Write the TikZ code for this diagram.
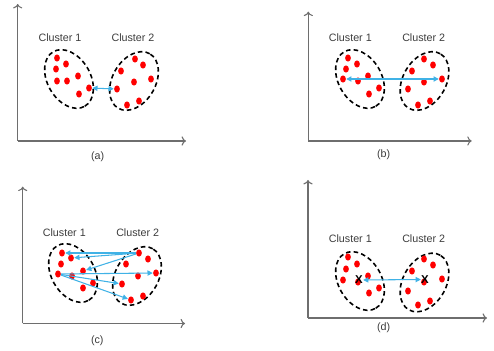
\documentclass[tikz,border=0pt]{standalone}
\usepackage{fontspec}
\setmainfont{Liberation Sans}
\usetikzlibrary{shapes.geometric,arrows.meta}
\definecolor{linkblue}{RGB}{64,178,230}
\definecolor{axisgray}{RGB}{110,110,110}
\definecolor{textgray}{RGB}{60,60,60}
\begin{document}
\begin{tikzpicture}[x=0.02cm, y=-0.02cm,
    dot/.style={ellipse, fill=red, minimum width=0.115cm, minimum height=0.145cm, inner sep=0pt},
    clus/.style={ellipse, draw, line width=0.9pt, dash pattern=on 2.6pt off 1.8pt, minimum width=1.26cm, minimum height=0.86cm, inner sep=0pt},
    lbl/.style={text=textgray, font=\fontsize{6.1}{7}\selectfont, inner sep=0pt},
    cross/.style={font=\fontsize{6.5}{7}\selectfont\bfseries, inner sep=0pt},
    axis/.style={->, >={To[length=2.5pt]}, draw=axisgray, line width=0.6pt},
    link/.style={draw=linkblue, line width=0.6pt, >={Triangle[length=3pt,width=3pt]}}]
  \useasboundingbox (0,0) rectangle (494,351);
  % (a) nearest points
  \draw[axis] (17.7,141) -- (17.7,4);
  \draw[axis] (17.7,141) -- (186,141);
  \node[lbl] (a1t) at (60,38) {Cluster 1};
  \node[lbl] (a2t) at (133,38) {Cluster 2};
  \node[lbl] (acap) at (97.7,156.7) {(a)};
  \node[clus, rotate=-60] (a1) at (69,79) {};
  \node[clus, rotate=60] (a2) at (134,81) {};
  \foreach \p/\q [count=\i] in {57/58,66/64,56/69,57/81,67/81,78/76,79/94,89/88}
    \node[dot] (a1\i) at (\p,\q) {};
  \foreach \p/\q [count=\i] in {135/59,143/65,121/71,151/79,134/82,117/89,127/105,139/101}
    \node[dot] (a2\i) at (\p,\q) {};
  \draw[link, <->] (a18) -- (a26);
  % (b) farthest points
  \draw[axis] (308.3,141) -- (308.3,11.7);
  \draw[axis] (308.3,141) -- (471.7,141);
  \node[lbl] (b1t) at (350.3,37.7) {Cluster 1};
  \node[lbl] (b2t) at (423.7,37.7) {Cluster 2};
  \node[lbl] (bcap) at (383.7,155) {(b)};
  \node[clus, rotate=-60] (b1) at (360,79) {};
  \node[clus, rotate=60] (b2) at (424.5,81) {};
  \foreach \p/\q [count=\i] in {348/58,357/64,346/69,343/79,358/81,368/76,369/94,379/88}
    \node[dot] (b1\i) at (\p,\q) {};
  \foreach \p/\q [count=\i] in {424/59,433/65,412/71,442/79,424/82,408/89,418/105,430/101}
    \node[dot] (b2\i) at (\p,\q) {};
  \draw[link, <->] (b14) -- (b24);
  % (c) all pairs
  \draw[axis] (22.7,323.5) -- (22.7,186.7);
  \draw[axis] (22.7,323.5) -- (185,323.5);
  \node[lbl] (c1t) at (64.3,232.7) {Cluster 1};
  \node[lbl] (c2t) at (137.7,232.7) {Cluster 2};
  \node[lbl] (ccap) at (97.3,341) {(c)};
  \node[clus, rotate=-60] (c1) at (73,273) {};
  \node[clus, rotate=60] (c2) at (137,276) {};
  \foreach \p/\q [count=\i] in {62/253,71/258,61/264,58/274,72/276,83/271,93/283,83/288}
    \node[dot] (c1\i) at (\p,\q) {};
  \foreach \p/\q [count=\i] in {139/253,148/259,126/264,156/273,138/276,122/284,131/300,143/296}
    \node[dot] (c2\i) at (\p,\q) {};
  \foreach \j in {1,2,6}
    \draw[link, ->] (c21) -- (c1\j);
  \foreach \j in {4,6,7}
    \draw[link, ->] (c14) -- (c2\j);
  % (d) centroids
  \draw[axis] (308,318) -- (308,180);
  \draw[axis] (308,318) -- (487,318);
  \node[lbl] (d1t) at (350.3,238.3) {Cluster 1};
  \node[lbl] (d2t) at (423.7,238.3) {Cluster 2};
  \node[lbl] (dcap) at (383.7,328) {(d)};
  \node[clus, rotate=-60] (d1) at (360,281) {};
  \node[clus, rotate=60] (d2) at (424.5,282.5) {};
  \foreach \p/\q [count=\i] in {348/257,357/264,346/269,343/280,358/282,368/276,369/293,379/288}
    \node[dot] (d1\i) at (\p,\q) {};
  \foreach \p/\q [count=\i] in {424/259,433/265,412/271,442/279,424/282,408/291,418/305,430/301}
    \node[dot] (d2\i) at (\p,\q) {};
  \node[cross] (dx1) at (359,280) {X};
  \node[cross] (dx2) at (425,279.5) {X};
  \draw[link, <->] (dx1) -- (dx2);
\end{tikzpicture}
\end{document}
